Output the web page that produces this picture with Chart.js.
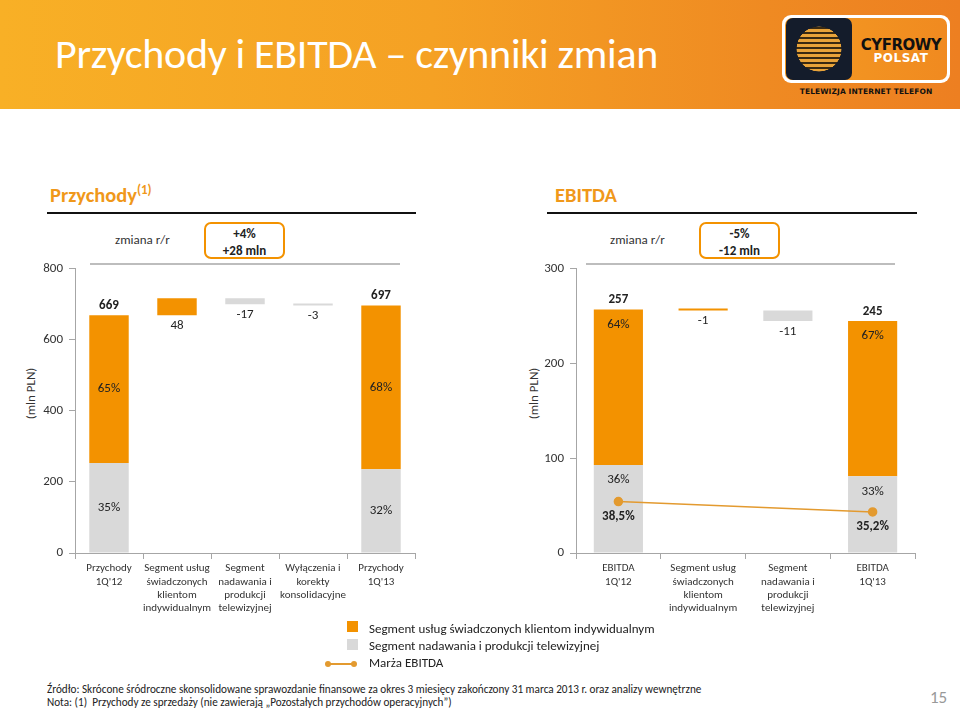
<!DOCTYPE html>
<html>
<head>
<meta charset="utf-8">
<script src="https://cdn.jsdelivr.net/npm/chart.js@4.4.1/dist/chart.umd.min.js"></script>
<style>
  body { margin: 0; width: 960px; height: 709px; background: #fff; position: relative; overflow: hidden;
         font-family: Carlito, Lato, "Open Sans", sans-serif; color: #222; }
  .abs { position: absolute; }
  #header { left: 0; top: 0; width: 960px; height: 109px;
            background: linear-gradient(90deg, #f8b026 0%, #f5a124 45%, #ef8a22 80%, #ed7f21 100%); }
  #header h1 { position: absolute; left: 55px; top: 28px; margin: 0; color: #fff; font-weight: 400; font-size: 42px; letter-spacing: -0.3px; }
  .sec { color: #f0981a; font-weight: 700; font-size: 20.5px; }
  .sec sup { font-size: 13px; font-weight: 700; }
  .rule { height: 2px; background: #111; }
  .sep { height: 2px; background: #bdbdbd; }
  .zm { font-size: 13px; color: #333; }
  .box { border: 2px solid #f39200; border-radius: 7px; text-align: center; font-weight: 700; font-size: 13px; line-height: 17px; padding-top: 1px; box-sizing: border-box; }
  .ytitle { font-size: 13px; color: #333; transform: rotate(-90deg); transform-origin: center center; white-space: nowrap; }
  .leg { font-size: 13px; color: #222; }
  .foot { font-size: 11.2px; color: #222; }
</style>
</head>
<body>
<div id="header" class="abs">
  <h1>Przychody i EBITDA – czynniki zmian</h1>
  <div class="abs" style="left:782px;top:15px;width:168px;height:68px;border-radius:9px;background:#fff;"></div>
  <div class="abs" style="left:785px;top:18px;width:162px;height:62px;border-radius:7px;background:linear-gradient(90deg,#f49a22,#f08a20);"></div>
  <div class="abs" style="left:786px;top:18px;width:66px;height:62px;border-radius:7px;background:#141c2b;"></div>
  <div class="abs" style="left:796px;top:26px;width:46px;height:46px;border-radius:50%;
       background:repeating-linear-gradient(0deg,#e8a33a 0 3px,#3a2a12 3px 5px), #e8a33a;
       -webkit-mask:radial-gradient(circle,#000 68%,transparent 70%);"></div>
  <div class="abs" style="left:858px;top:36px;width:86px;text-align:center;font:900 15px 'DejaVu Sans',sans-serif;color:#111;letter-spacing:-0.5px;">CYFROWY</div>
  <div class="abs" style="left:858px;top:51px;width:86px;text-align:center;font:900 12px 'DejaVu Sans',sans-serif;color:#fff;letter-spacing:0.5px;">POLSAT</div>
  <div class="abs" style="left:782px;top:87px;width:168px;text-align:center;font:900 7.5px 'DejaVu Sans',sans-serif;color:#111;letter-spacing:0.1px;">TELEWIZJA INTERNET TELEFON</div>
</div>

<div class="abs sec" style="left:50px;top:182px;">Przychody<sup>(1)</sup></div>
<div class="abs rule" style="left:47px;top:212px;width:369px;"></div>
<div class="abs sec" style="left:555px;top:182px;">EBITDA</div>
<div class="abs rule" style="left:547px;top:212px;width:370px;"></div>

<div class="abs zm" style="left:115px;top:232px;">zmiana r/r</div>
<div class="abs box" style="left:204px;top:222px;width:81px;height:37px;">+4%<br>+28 mln</div>
<div class="abs zm" style="left:610px;top:232px;">zmiana r/r</div>
<div class="abs box" style="left:699px;top:222px;width:81px;height:37px;">-5%<br>-12 mln</div>

<div class="abs sep" style="left:90px;top:263px;width:310px;"></div>
<div class="abs sep" style="left:586px;top:263px;width:309px;"></div>

<div class="abs ytitle" style="left:0px;top:386px;width:60px;text-align:center;">(mln PLN)</div>
<div class="abs ytitle" style="left:503px;top:386px;width:60px;text-align:center;">(mln PLN)</div>

<canvas id="rev" class="abs" width="430" height="370" style="left:0;top:255px;"></canvas>
<canvas id="ebitda" class="abs" width="440" height="370" style="left:490px;top:255px;"></canvas>

<div class="abs" style="left:347px;top:621px;width:11px;height:11px;background:#f39200;"></div>
<div class="abs leg" style="left:369px;top:621px;">Segment usług świadczonych klientom indywidualnym</div>
<div class="abs" style="left:347px;top:639px;width:11px;height:11px;background:#d9d9d9;"></div>
<div class="abs leg" style="left:369px;top:638px;">Segment nadawania i produkcji telewizyjnej</div>
<div class="abs" style="left:328px;top:663px;width:26px;height:2px;background:#e39a2f;"></div>
<div class="abs" style="left:325px;top:661px;width:6px;height:6px;border-radius:50%;background:#e39a2f;"></div>
<div class="abs" style="left:351px;top:661px;width:6px;height:6px;border-radius:50%;background:#e39a2f;"></div>
<div class="abs leg" style="left:369px;top:655px;">Marża EBITDA</div>

<div class="abs foot" style="left:47px;top:682px;">Źródło: Skrócone śródroczne skonsolidowane sprawozdanie finansowe za okres 3 miesięcy zakończony 31 marca 2013 r. oraz analizy wewnętrzne</div>
<div class="abs foot" style="left:47px;top:695px;">Nota: (1)&nbsp; Przychody ze sprzedaży (nie zawierają „Pozostałych przychodów operacyjnych”)</div>
<div class="abs" style="left:930px;top:687px;font-size:17px;color:#999;">15</div>

<script>
// ---- data: Przychody (revenue) ----
const revLabels = [['Przychody', "1Q'12"], ['Segment usług', 'świadczonych', 'klientom', 'indywidualnym'],
  ['Segment', 'nadawania i', 'produkcji', 'telewizyjnej'], ['Wyłączenia i', 'korekty', 'konsolidacyjne'], ['Przychody', "1Q'13"]];
const revTotals = [669, null, null, null, 697];
const revGreyPart = [253, null, null, null, 236];
const revChanges = [null, 48, -17, -3, null];
const revChangeColor = [null, 'orange', 'grey', 'grey', null];
const revShareOrange = ['65%', null, null, null, '68%'];
const revShareGrey = ['35%', null, null, null, '32%'];
const revTicks = [0, 200, 400, 600, 800];

// ---- data: EBITDA ----
const ebLabels = [['EBITDA', "1Q'12"], ['Segment usług', 'świadczonych', 'klientom', 'indywidualnym'],
  ['Segment', 'nadawania i', 'produkcji', 'telewizyjnej'], ['EBITDA', "1Q'13"]];
const ebTotals = [257, null, null, 245];
const ebGreyPart = [93, null, null, 81];
const ebChanges = [null, -1, -11, null];
const ebChangeColor = [null, 'orange', 'grey', null];
const ebShareOrange = ['64%', null, null, '67%'];
const ebShareGrey = ['36%', null, null, '33%'];
const ebMargin = [38.5, null, null, 35.2];
const ebMarginText = ['38,5%', null, null, '35,2%'];
const ebTicks = [0, 100, 200, 300];

const ORANGE = '#f39200', GREY = '#d9d9d9', LINE = '#e39a2f';
const FONT = 'Carlito, Lato, "Open Sans", sans-serif';

// turn totals + changes into floating bars
function waterfall(totals, greyPart, changes, colors) {
  const orange = [], grey = [];
  let running = 0;
  totals.forEach((t, i) => {
    if (t != null) {
      orange.push([greyPart[i], t]);
      grey.push([0, greyPart[i]]);
      running = t;
    } else {
      const from = running, to = running + changes[i];
      running = to;
      const bar = [Math.min(from, to), Math.max(from, to)];
      orange.push(colors[i] === 'orange' ? bar : null);
      grey.push(colors[i] === 'grey' ? bar : null);
    }
  });
  return { orange, grey };
}

function labelPlugin(cfg) {
  return {
    id: 'valueLabels',
    afterDatasetsDraw(chart) {
      const ctx = chart.ctx;
      const x = chart.scales.x, y = chart.scales.y;
      ctx.save();
      ctx.textAlign = 'center';
      ctx.fillStyle = '#222';
      cfg.totals.forEach((t, i) => {
        const cx = x.getPixelForValue(i);
        if (t != null) {
          ctx.font = 'bold 13px ' + FONT;
          ctx.textBaseline = 'bottom';
          ctx.fillText(String(t), cx, y.getPixelForValue(t) - 3);
          ctx.font = '13px ' + FONT;
          ctx.textBaseline = 'middle';
          const g = cfg.grey[i];
          let oy, gy;
          if (cfg.pctPos === 'center') {
            oy = (y.getPixelForValue(t) + y.getPixelForValue(g)) / 2;
            gy = (y.getPixelForValue(g) + y.getPixelForValue(0)) / 2;
          } else {
            oy = y.getPixelForValue(t) + 15;
            gy = y.getPixelForValue(g) + 15;
          }
          ctx.fillText(cfg.shareOrange[i], cx, oy);
          ctx.fillText(cfg.shareGrey[i], cx, gy);
        } else {
          const bars = cfg.bars.orange[i] || cfg.bars.grey[i];
          ctx.font = '13px ' + FONT;
          ctx.textBaseline = 'top';
          ctx.fillText(String(cfg.changes[i]), cx, y.getPixelForValue(bars[0]) + 4);
        }
      });
      if (cfg.marginText) {
        const y2 = chart.scales.y2;
        ctx.font = 'bold 13px ' + FONT;
        ctx.textBaseline = 'middle';
        cfg.margin.forEach((m, i) => {
          if (m == null) return;
          ctx.fillText(cfg.marginText[i], x.getPixelForValue(i), y2.getPixelForValue(m) + 15);
        });
      }
      ctx.restore();
    }
  };
}

function axisOptions(ticks, yWidth) {
  return {
    x: {
      grid: { drawOnChartArea: false, drawTicks: true, tickLength: 6, color: '#a6a6a6', offset: true },
      border: { color: '#a6a6a6' },
      ticks: { font: { family: FONT, size: 11 }, color: '#333', maxRotation: 0, autoSkip: false, padding: 3 },
      afterFit: s => { s.height = 72; }
    },
    y: {
      min: ticks[0], max: ticks[ticks.length - 1], stepSize: ticks[1] - ticks[0],
      afterBuildTicks: s => { s.ticks = ticks.map(v => ({ value: v })); },
      grid: { drawOnChartArea: false, drawTicks: true, tickLength: 6, color: '#a6a6a6' },
      border: { color: '#a6a6a6' },
      ticks: { font: { family: FONT, size: 13 }, color: '#333', padding: 6 },
      afterFit: s => { s.width = yWidth; }
    }
  };
}

const barStyle = { grouped: false, barPercentage: 0.58, categoryPercentage: 1, minBarLength: 2 };

// ---- revenue chart ----
const revBars = waterfall(revTotals, revGreyPart, revChanges, revChangeColor);
new Chart(document.getElementById('rev'), {
  type: 'bar',
  data: {
    labels: revLabels,
    datasets: [
      { data: revBars.grey, backgroundColor: GREY, ...barStyle },
      { data: revBars.orange, backgroundColor: ORANGE, ...barStyle }
    ]
  },
  options: {
    responsive: false, animation: false, devicePixelRatio: 1,
    layout: { padding: { top: 10, right: 15, left: 0, bottom: 0 } },
    plugins: { legend: { display: false }, tooltip: { enabled: false } },
    scales: axisOptions(revTicks, 75)
  },
  plugins: [labelPlugin({ totals: revTotals, grey: revGreyPart, changes: revChanges, bars: revBars,
    shareOrange: revShareOrange, shareGrey: revShareGrey, pctPos: 'center' })]
});

// ---- EBITDA chart ----
const ebBars = waterfall(ebTotals, ebGreyPart, ebChanges, ebChangeColor);
const ebScales = axisOptions(ebTicks, 86);
ebScales.y2 = { display: false, min: 22.2, max: 112.2 };
new Chart(document.getElementById('ebitda'), {
  type: 'bar',
  data: {
    labels: ebLabels,
    datasets: [
      { type: 'line', data: ebMargin, yAxisID: 'y2', spanGaps: true, borderColor: LINE, borderWidth: 1.5,
        pointRadius: 4, pointBackgroundColor: LINE, pointBorderColor: LINE, order: 0 },
      { data: ebBars.grey, backgroundColor: GREY, ...barStyle, order: 1 },
      { data: ebBars.orange, backgroundColor: ORANGE, ...barStyle, order: 1 }
    ]
  },
  options: {
    responsive: false, animation: false, devicePixelRatio: 1,
    layout: { padding: { top: 10, right: 15, left: 0, bottom: 0 } },
    plugins: { legend: { display: false }, tooltip: { enabled: false } },
    scales: ebScales
  },
  plugins: [labelPlugin({ totals: ebTotals, grey: ebGreyPart, changes: ebChanges, bars: ebBars,
    shareOrange: ebShareOrange, shareGrey: ebShareGrey, pctPos: 'top', margin: ebMargin, marginText: ebMarginText })]
});
</script>
</body>
</html>
